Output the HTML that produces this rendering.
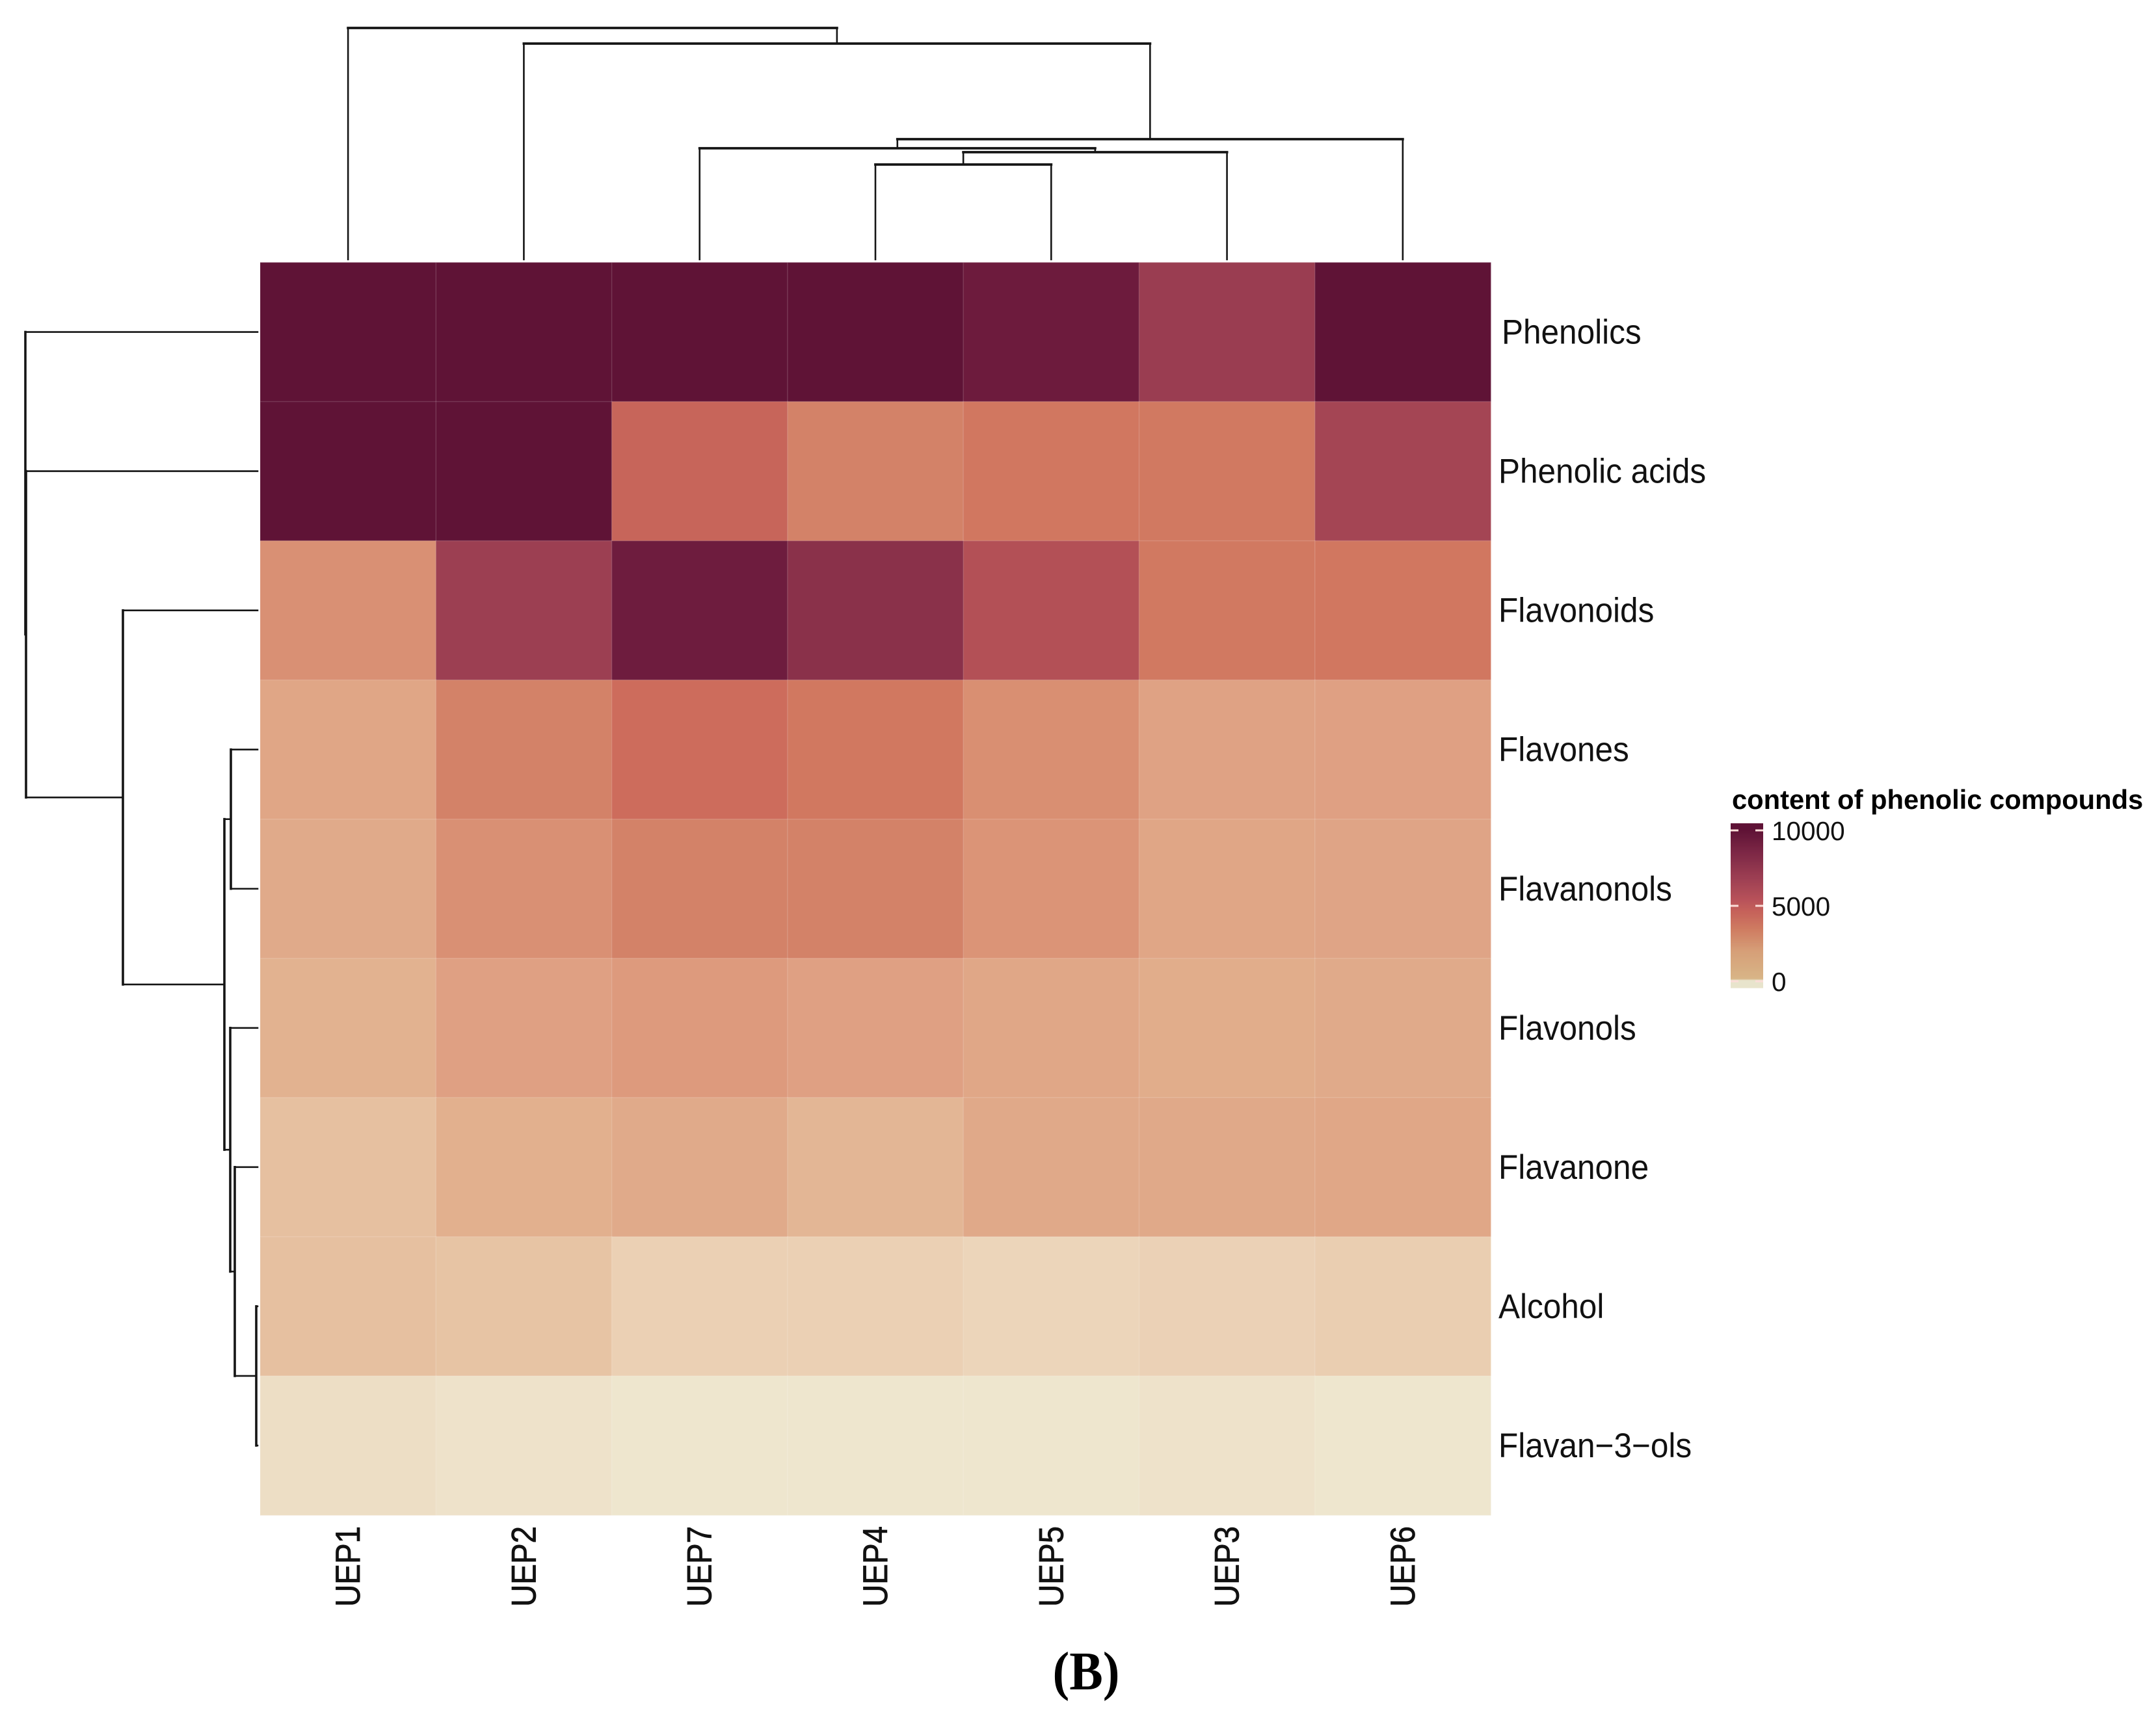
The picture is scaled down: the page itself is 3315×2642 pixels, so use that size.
<!DOCTYPE html>
<html lang="en">
<head>
<meta charset="utf-8">
<title>Heatmap of phenolic compounds</title>
<style>
html,body{margin:0;padding:0;background:#fff;}
body{width:3315px;height:2642px;overflow:hidden;}
svg{display:block;}
text{font-family:"Liberation Sans",sans-serif;fill:#111;}
</style>
</head>
<body>
<svg id="chart" width="3315" height="2642" viewBox="0 0 3315 2642" xmlns="http://www.w3.org/2000/svg">
  <rect x="0" y="0" width="3315" height="2642" fill="#ffffff"/>
  <g id="col-dendrogram"></g>
  <g id="row-dendrogram"></g>
  <g id="cells"></g>
  <g id="row-labels"></g>
  <g id="col-labels"></g>
  <g id="legend">
    <text x="2663" y="1244" font-size="41.7" font-weight="700" style="fill:#000">content of phenolic compounds</text>
    <g id="legend-bar"></g>
    <g id="legend-ticks"></g>
  </g>
  <text transform="translate(1670,2598) scale(.92,1)" text-anchor="middle" font-size="84" font-weight="700" style="font-family:'Liberation Serif',serif;fill:#000">(B)</text>
</svg>
<script>
const columns = ['UEP1','UEP2','UEP7','UEP4','UEP5','UEP3','UEP6'];
const rows = ['Phenolics','Phenolic acids','Flavonoids','Flavones','Flavanonols','Flavonols','Flavanone','Alcohol','Flavan\u22123\u2212ols'];
const phenolics = [10000,10000,10000,10000,9100,7100,10000];
const phenolicAcids = [10000,10000,4400,3000,3550,3450,6500];
const flavonoids = [2550,7000,9000,7800,5600,3450,3550];
const flavones = [1850,3000,4000,3500,2600,2000,2050];
const flavanonols = [1650,2550,3000,3000,2450,1850,1900];
const flavonols = [1400,2050,2250,2050,1800,1550,1650];
const flavanone = [1050,1450,1650,1300,1700,1700,1800];
const alcohol = [1050,950,600,600,450,550,650];
const flavan3ols = [200,100,0,0,0,100,0];
const legendTickValues = [0,5000,10000];
const legendTickLabels = ['0','5000','10000'];
// Linkage: [childA, childB, distance]; ids below leaf count are leaves, then merges in order.
const colLinkage = [[3,4,146],[7,5,165],[2,8,171],[9,6,185],[1,10,332],[0,11,356]];
const rowLinkage = [[7,8,2],[6,9,35],[5,10,42],[3,4,41],[12,11,51],[2,13,207],[1,14,356],[0,15,357]];
const scaleStops = [0,500,1000,1500,2000,2500,3000,3500,4000,5000,6000,7000,8000,9000,10000];
const scaleColors = ['#EEE6CE','#ECD3B8','#E6C2A2','#E1AE8C','#DFA284','#DA9275','#D38268','#D17860','#CD6C5C','#BE5A58','#AC4A55','#9C3F52','#852E48','#6E1C3E','#5F1336'];
const legendStops = [-430,60,160,2000,3400,4600,5400,7000,8500,10000];
const legendColors = ['#E8E4CC','#E8E4CC','#D8B587','#D69F78','#CF7D62','#C6625A','#B8525A','#9A3D52','#7D2846','#5F1336'];

const matrix = [phenolics,phenolicAcids,flavonoids,flavones,flavanonols,flavonols,flavanone,alcohol,flavan3ols];
const SVGNS = 'http://www.w3.org/2000/svg';
const plot = {left:400, right:2292, top:403.5, bottom:2330};
const cellW = (plot.right-plot.left)/columns.length;
const cellH = (plot.bottom-plot.top)/rows.length;
function xBand(i){ return plot.left + i*cellW; }
function yBand(i){ return plot.top + i*cellH; }
function xCenter(i){ return xBand(i)+cellW/2; }
function yCenter(i){ return yBand(i)+cellH/2; }
function colDistY(d){ return 399 - d; }
function rowDistX(d){ return 396 - d; }
function legendY(v){ return 1509 - v*0.02320; }
function hexRgb(h){ return [1,3,5].map(function(p){ return parseInt(h.substr(p,2),16); }); }
function ramp(stops, colors, v){
  if(v<=stops[0]) return colors[0];
  for(let i=1;i<stops.length;i++){
    if(v<=stops[i]){
      const t=(v-stops[i-1])/(stops[i]-stops[i-1]);
      const a=hexRgb(colors[i-1]), b=hexRgb(colors[i]);
      return 'rgb('+a.map(function(c,k){ return Math.round(c+(b[k]-c)*t); }).join(',')+')';
    }
  }
  return colors[colors.length-1];
}
function colorScale(v){ return ramp(scaleStops,scaleColors,v); }
function legendColor(v){ return ramp(legendStops,legendColors,v); }
function make(tag, parent, attrs){
  const el=document.createElementNS(SVGNS,tag);
  for(const k in attrs){ el.setAttribute(k,attrs[k]); }
  parent.appendChild(el);
  return el;
}

// heatmap cells
const cellsG=document.getElementById('cells');
rows.forEach(function(rowName,r){
  columns.forEach(function(colName,c){
    const cell=make('rect',cellsG,{x:xBand(c),y:yBand(r),width:cellW+0.5,height:cellH+0.5,fill:colorScale(matrix[r][c]),stroke:'rgba(255,255,255,0.13)','stroke-width':1.5});
    
    
  });
});

// dendrograms
function drawDendrogram(parent, linkage, leafCount, leafPos, distPos, horizontalTree, name){
  const pos=[], hgt=[];
  for(let i=0;i<leafCount;i++){ pos[i]=leafPos(i); hgt[i]=0; }
  linkage.forEach(function(m,k){
    const a=m[0], b=m[1], d=m[2], id=leafCount+k;
    const segs=[[pos[a],hgt[a],pos[a],d,'stem'],[pos[b],hgt[b],pos[b],d,'stem'],[pos[a],d,pos[b],d,'bar']];
    segs.forEach(function(s){
      const line=document.createElementNS(SVGNS,'line');
      if(horizontalTree){
        line.setAttribute('x1',s[0]);
        line.setAttribute('y1',distPos(s[1]));
        line.setAttribute('x2',s[2]);
        line.setAttribute('y2',distPos(s[3]));
        line.setAttribute('stroke-width',s[4]==='bar'?3.8:2.6);
      } else {
        line.setAttribute('x1',distPos(s[1]));
        line.setAttribute('y1',s[0]);
        line.setAttribute('x2',distPos(s[3]));
        line.setAttribute('y2',s[2]);
        line.setAttribute('stroke-width',s[4]==='bar'?3.6:2.6);
      }
      line.setAttribute('stroke','#151515');
      line.setAttribute('stroke-linecap','square');
      
      
      parent.appendChild(line);
    });
    pos[id]=(pos[a]+pos[b])/2;
    hgt[id]=d;
  });
}
drawDendrogram(document.getElementById('col-dendrogram'),colLinkage,columns.length,xCenter,colDistY,true,'column-dendrogram');
drawDendrogram(document.getElementById('row-dendrogram'),rowLinkage,rows.length,yCenter,rowDistX,false,'row-dendrogram');

// row labels
const rowLabelsG=document.getElementById('row-labels');
rows.forEach(function(label,r){
  const t=make('text',rowLabelsG,{transform:'translate('+(r===0?2309:2304)+','+(yCenter(r)+18)+') scale(1,1.07)','font-size':49.5});
  
  
  t.textContent=label;
});

// column labels
const colLabelsG=document.getElementById('col-labels');
columns.forEach(function(label,c){
  const t=make('text',colLabelsG,{transform:'translate('+(xCenter(c)+18)+',2471) rotate(-90) scale(1,1.12)','font-size':47.5,stroke:'#111','stroke-width':0.7});
  
  
  t.textContent=label;
});

// legend colour bar
const legendBarG=document.getElementById('legend-bar');
for(let v=-430;v<10430;v+=50){
  const seg=make('rect',legendBarG,{x:2661,y:legendY(v+50),width:50,height:legendY(v)-legendY(v+50)+0.6,fill:legendColor(v)});
  
  
}
const legendTicksG=document.getElementById('legend-ticks');
legendTickValues.forEach(function(v,i){
  const y=legendY(v);
  [[2661,2673],[2699,2711]].forEach(function(seg){
    const tick=make('line',legendTicksG,{x1:seg[0],x2:seg[1],y1:y,y2:y,stroke:'#FBDDD8','stroke-width':3});
    
    
  });
  const t=make('text',legendTicksG,{x:2724,y:y+15,'font-size':40.5});
  
  
  t.textContent=legendTickLabels[i];
});
</script>
</body>
</html>
